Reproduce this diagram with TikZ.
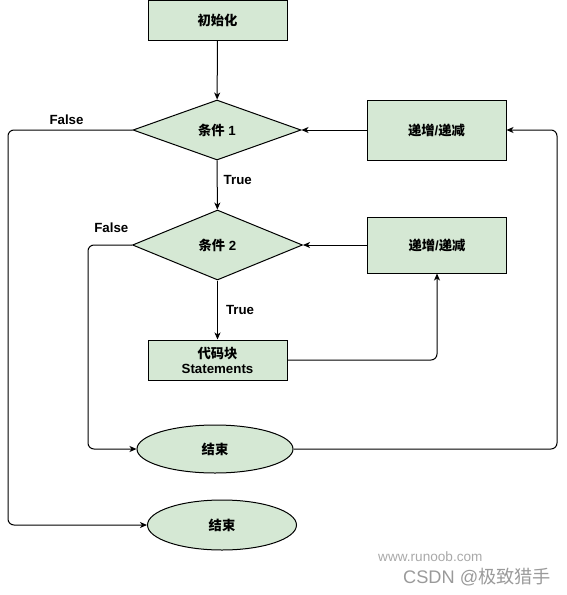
\documentclass[tikz,border=0pt]{standalone}
\usepackage{fontspec}
\setmainfont{Liberation Sans}
\newfontfamily\cjk{Noto Sans CJK SC}
\usetikzlibrary{shapes.geometric,arrows.meta}
\definecolor{boxfill}{HTML}{D5E8D4}
\definecolor{wm}{HTML}{9A9A9A}
\begin{document}
\begin{tikzpicture}[x=1pt,y=-1pt,
  every node/.style={font=\fontsize{13.3}{15}\selectfont\bfseries},
  box/.style={draw=black,fill=boxfill,line width=1pt,rectangle,minimum width=139pt,minimum height=40pt,inner sep=0pt,align=center},
  dia/.style={draw=black,fill=boxfill,line width=1pt,diamond,aspect=2.8,minimum width=168pt,minimum height=60pt,inner sep=0pt},
  ell/.style={draw=black,fill=boxfill,line width=1pt,ellipse,minimum height=48pt,inner sep=0pt},
  arr/.style={line width=1pt,-{Stealth[length=7pt,width=6pt,inset=2pt]},rounded corners=6pt},
  lbl/.style={font=\fontsize{13.3}{15}\selectfont\bfseries,inner sep=0pt}
]
\useasboundingbox (0,0) rectangle (566,595);

\node[box] (init) at (217.5,20) {{\cjk 初始化}};
\node[dia] (c1) at (217,130) {{\cjk 条件} 1};
\node[box,minimum height=60pt] (inc1) at (436.5,130) {{\cjk 递增}/{\cjk 递减}};
\node[dia,aspect=2.43,minimum width=170pt,minimum height=70pt] (c2) at (217.5,245) {{\cjk 条件} 2};
\node[box,minimum height=56pt] (inc2) at (437,245) {{\cjk 递增}/{\cjk 递减}};
\node[box] (code) at (217.5,360) {{\cjk 代码块}\\[0pt]Statements};
\node[ell,minimum width=156pt] (end1) at (215,449) {{\cjk 结束}};
\node[ell,minimum width=149pt,minimum height=50pt] (end2) at (222,525) {{\cjk 结束}};

\coordinate (l1) at (8,130);
\coordinate (l2) at (88,245);
\coordinate (r1) at (557,130);

\draw[arr] (init) -- (c1);
\draw[arr] (c1) -- node[lbl,anchor=west,pos=0.4,xshift=6pt] {True} (c2);
\draw[arr] (inc1) -- (c1.east);
\draw[arr] (c1.west) -- node[lbl,pos=0.53,yshift=10pt] {False} (l1) |- (end2.west);
\draw[arr] (c2) -- node[lbl,anchor=west,pos=0.5,xshift=8pt] {True} (code);
\draw[arr] (c2.west) -- node[lbl,pos=0.47,yshift=17pt] {False} (l2) |- (end1.west);
\draw[arr] (code.east) -| (inc2.south);
\draw[arr] (inc2.west) -- (c2.east);
\draw[arr] (end1.east) -| (r1) -- (inc1.east);

\node[font=\fontsize{13.6}{15}\selectfont,text=wm!85,anchor=west,inner sep=0pt] (wm1) at (378,557) {www.runoob.com};
\node[font=\fontsize{18.2}{20}\selectfont,text=wm,anchor=west,inner sep=0pt] (wm2) at (403,577) {CSDN @{\cjk 极致猎手}};
\end{tikzpicture}
\end{document}
